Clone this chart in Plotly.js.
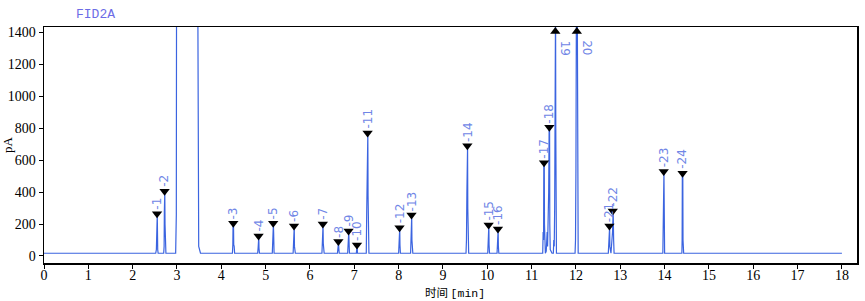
<!DOCTYPE html>
<html>
<head>
<meta charset="utf-8">
<script src="https://cdn.plot.ly/plotly-3.0.1.min.js"></script>
<style>html,body{margin:0;padding:0;background:#fff;}#chart{width:865px;height:301px;}</style>
</head>
<body>
<div id="chart"></div>
<script>
// Chromatogram trace (retention time in min, signal in pA)
const timeMin = [
  0, 2.50,
  2.52, 2.535, 2.545, 2.555, 2.565, 2.575,
  2.70, 2.71, 2.715, 2.72, 2.725, 2.73, 2.74, 2.75,
  2.97, 2.98, 2.985, 2.99, 3.47, 3.49, 3.51, 3.53,
  4.25, 4.26, 4.265, 4.275, 4.28, 4.29, 4.30,
  4.82, 4.83, 4.835, 4.845, 4.85, 4.86,
  5.15, 5.16, 5.165, 5.175, 5.18, 5.19,
  5.62, 5.63, 5.635, 5.645, 5.65, 5.67,
  6.27, 6.28, 6.285, 6.295, 6.30, 6.31, 6.32,
  6.62, 6.63, 6.635, 6.645, 6.65, 6.66,
  6.85, 6.86, 6.865, 6.875, 6.88, 6.89,
  7.045, 7.05, 7.055, 7.065, 7.07,
  7.27, 7.28, 7.285, 7.295, 7.305, 7.31, 7.32, 7.33,
  8.00, 8.01, 8.015, 8.025, 8.03, 8.04,
  8.27, 8.28, 8.285, 8.295, 8.30, 8.32,
  9.52, 9.53, 9.54, 9.545, 9.555, 9.56, 9.57, 9.58,
  10.01, 10.02, 10.025, 10.035, 10.04, 10.05,
  10.22, 10.23, 10.235, 10.245, 10.25, 10.26,
  11.25, 11.26, 11.27, 11.275, 11.285, 11.29, 11.30, 11.31,
  11.33, 11.35, 11.36, 11.385, 11.395, 11.405, 11.41, 11.42, 11.46,
  11.49, 11.50, 11.51, 11.52, 11.525, 11.53, 11.54, 11.545, 11.55, 11.56,
  11.98, 11.99, 12.00, 12.01, 12.03, 12.04, 12.05,
  12.73, 12.745, 12.75, 12.76, 12.765, 12.775, 12.79, 12.825, 12.835, 12.84, 12.85, 12.86,
  13.96, 13.965, 13.97, 13.975, 13.985, 13.99, 14.00,
  14.39, 14.395, 14.40, 14.41, 14.415, 14.43,
  18.0
];
const signalPA = [
  17, 17,
  17, 40, 262, 262, 40, 17,
  17, 60, 280, 400, 400, 200, 60, 17,
  17, 170, 260, 1600, 1600, 60, 30, 17,
  17, 70, 200, 200, 70, 60, 17,
  17, 50, 120, 120, 50, 17,
  17, 80, 200, 200, 150, 17,
  17, 70, 185, 185, 60, 17,
  17, 100, 195, 195, 80, 60, 17,
  17, 50, 88, 88, 50, 17,
  17, 100, 150, 150, 100, 17,
  17, 40, 65, 65, 17,
  17, 280, 420, 765, 765, 380, 120, 17,
  17, 80, 175, 175, 70, 17,
  17, 100, 250, 250, 100, 17,
  17, 100, 400, 685, 685, 300, 60, 17,
  17, 100, 190, 190, 70, 17,
  17, 70, 165, 165, 60, 17,
  17, 150, 100, 580, 580, 200, 100, 17,
  30, 150, 60, 400, 800, 800, 200, 40, 17,
  17, 100, 60, 300, 1000, 1600, 1600, 800, 100, 17,
  17, 100, 550, 1600, 1600, 300, 17,
  17, 100, 185, 185, 60, 40, 17, 150, 278, 278, 100, 17,
  17, 100, 380, 525, 525, 350, 17,
  17, 100, 515, 515, 100, 17,
  17
];

// Integrated peaks (on-scale apex markers)
const peakLabels = ['1','2','3','4','5','6','7','8','9','10','11','12','13','14','15','16','17','18','21','22','23','24'];
const peakTimes  = [2.55, 2.72, 4.27, 4.84, 5.17, 5.64, 6.29, 6.64, 6.87, 7.06, 7.30, 8.02, 8.29, 9.55, 10.03, 10.24, 11.28, 11.40, 12.755, 12.83, 13.98, 14.405];
const peakHeights = [265, 405, 205, 125, 205, 188, 200, 90, 156, 69, 770, 177, 257, 690, 194, 169, 584, 805, 188, 282, 528, 518];

// Off-scale peaks
const offLabels = ['19', '20'];
const offTimes = [11.535, 12.02];
const offMarkerPA = [1405, 1405];

const xTicks = [0,1,2,3,4,5,6,7,8,9,10,11,12,13,14,15,16,17,18];
const yTicks = [0,200,400,600,800,1000,1200,1400];

const lineColor = '#3b64e0';
const labelColor = '#7086e6';

const traces = [
  {x: timeMin, y: signalPA, type: 'scatter', mode: 'lines',
   line: {color: lineColor, width: 1.2}, hoverinfo: 'skip', cliponaxis: true},
  {x: peakTimes, y: peakHeights, type: 'scatter', mode: 'markers',
   marker: {symbol: 'triangle-down', size: 9, color: '#000'}, cliponaxis: false},
  {x: offTimes, y: offMarkerPA, type: 'scatter', mode: 'markers',
   marker: {symbol: 'triangle-up', size: 9, color: '#000'}, cliponaxis: false}
];

const annotations = [];
peakLabels.forEach((lab, i) => {
  annotations.push({
    x: peakTimes[i], y: peakHeights[i], xref: 'x', yref: 'y',
    text: '-' + lab, showarrow: false, textangle: -90,
    xanchor: 'center', yanchor: 'bottom', yshift: 2,
    font: {family: 'DejaVu Sans', size: 12, color: labelColor}
  });
});
offLabels.forEach((lab, i) => {
  annotations.push({
    x: offTimes[i], y: offMarkerPA[i], xref: 'x', yref: 'y',
    text: lab, showarrow: false, textangle: 90,
    xanchor: 'left', yanchor: 'top', xshift: 1, yshift: -7,
    font: {family: 'DejaVu Sans', size: 12, color: labelColor}
  });
});
annotations.push({
  xref: 'paper', yref: 'paper', x: 0.037, y: 1.0, yshift: 22,
  xanchor: 'left', yanchor: 'top', showarrow: false, text: 'FID2A',
  font: {family: 'Liberation Mono', size: 13, color: '#6c6ce6'}
});
annotations.push({
  xref: 'paper', yref: 'paper', x: 0.506, y: 0, yshift: -38, borderpad: 0,
  xanchor: 'center', yanchor: 'bottom', showarrow: false,
  text: '时间 <span style="font-family:Liberation Mono">[min]</span>',
  font: {family: 'Noto Sans CJK SC', size: 11.5, color: '#000'}
});

const layout = {
  width: 865, height: 301,
  margin: {l: 44, r: 8, t: 27, b: 38},
  paper_bgcolor: '#fff', plot_bgcolor: '#fff',
  showlegend: false,
  xaxis: {
    range: [0, 18.34], tickvals: xTicks, ticktext: xTicks.map(String),
    ticks: 'outside', ticklen: 4, tickcolor: '#000', tickwidth: 1,
    ticklabelstandoff: -5,
    showline: true, mirror: true, linecolor: '#000', linewidth: 1.5,
    showgrid: false, zeroline: false,
    tickfont: {family: 'Liberation Serif', size: 14, color: '#000'}
  },
  yaxis: {
    range: [-44, 1433], tickvals: yTicks, ticktext: yTicks.map(String),
    ticks: 'outside', ticklen: 4, tickcolor: '#000', tickwidth: 1,
    showline: true, mirror: true, linecolor: '#000', linewidth: 1.5,
    showgrid: false, zeroline: false,
    tickfont: {family: 'Liberation Serif', size: 14, color: '#000'},
    title: {text: 'pA', standoff: 4,
      font: {family: 'Liberation Serif', size: 13, color: '#000'}}
  },
  annotations: annotations
};

Plotly.newPlot('chart', traces, layout, {displayModeBar: false, staticPlot: true});
</script>
</body>
</html>
